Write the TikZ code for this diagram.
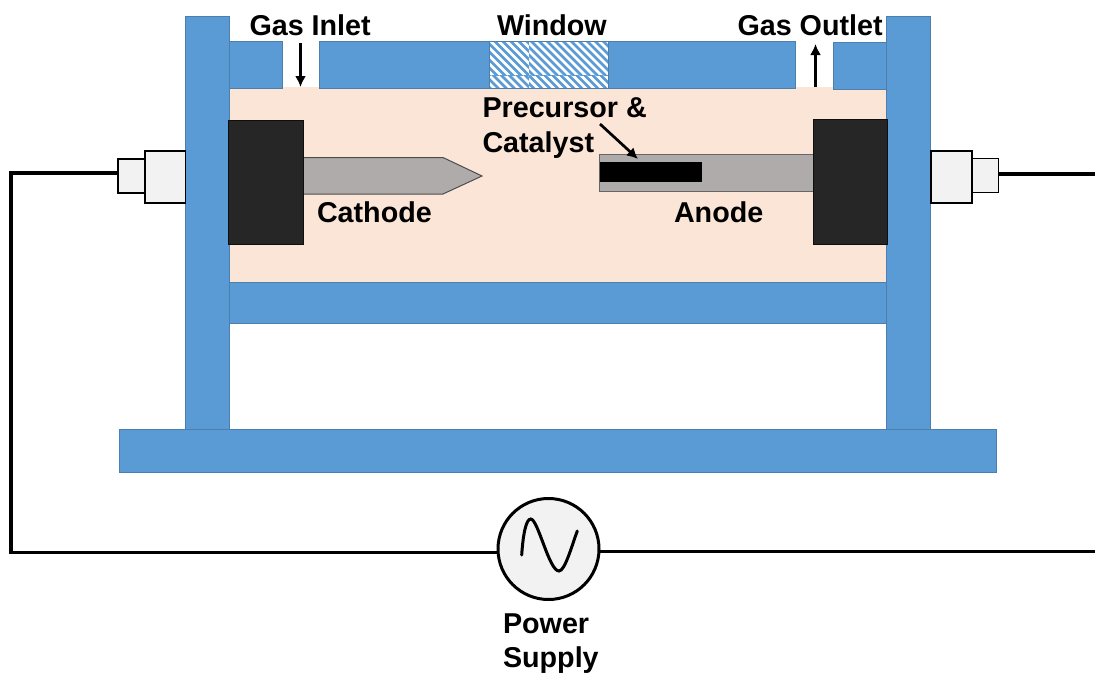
\documentclass[tikz,border=0pt]{standalone}
\usepackage{fontspec}
\setmainfont{Liberation Sans}
\definecolor{blueA}{HTML}{5B9BD5}
\definecolor{blueE}{HTML}{4A7FAE}
\definecolor{peach}{HTML}{FBE5D6}
\definecolor{darkB}{HTML}{262626}
\definecolor{greyE}{HTML}{AFABAB}
\definecolor{lightF}{HTML}{F2F2F2}
\usetikzlibrary{arrows.meta,calc}
\tikzset{
  box/.style={rectangle,anchor=north west,inner sep=0pt,outer sep=0pt},
  bluebox/.style={box,fill=blueA,draw=blueE,line width=1pt},
  holder/.style={box,fill=darkB,draw=black!60!darkB,line width=1pt},
  fitting/.style={box,fill=lightF,draw=black,line width=1.5pt},
  label/.style={anchor=base west,inner sep=0pt,outer sep=0pt,font=\fontsize{28.7}{34}\selectfont\bfseries},
  wire/.style={draw=black,line width=3.2pt,line cap=rect},
  gasarrow/.style={draw=black,line width=2.7pt,-{Latex[length=11pt,width=11pt]}}
}
\newcommand{\bx}[7][]{\node[#2,#1,minimum width=#5pt-#3pt,minimum height=#6pt-#4pt] (#7) at (#3pt,-#4pt) {};}
\begin{document}
\begin{tikzpicture}[x=1pt,y=-1pt]
\useasboundingbox (0,0) rectangle (1095,672);
% wiring behind the fittings and the supply
\coordinate (cornertop) at (11,173);
\coordinate (cornerbot) at (11,552.5);
\coordinate (exitbot) at (1095,551.5);
\coordinate (exittop) at (1095,174);
% chamber
\bx[fill=peach]{box}{229}{87}{886}{282}{chamber}
% top wall
\bx{bluebox}{229}{41.5}{282}{88}{topa}
\bx{bluebox}{319}{41.5}{489}{88}{topb}
\bx{bluebox}{608}{41.5}{795}{88}{topc}
\bx{bluebox}{833.5}{42}{886}{89}{topd}
% window
\bx{box}{489}{41.5}{608}{88}{window}
\fill[white] (window.north west) rectangle (window.south east);
\foreach \xa/\xb/\ya/\yb/\ph in {489/529/41.5/75/3.5, 529/608/41.5/75/0, 489/529/75/88/0, 529/608/75/88/3.5} {
  \begin{scope}
  \clip (\xa,\ya) rectangle (\xb,\yb);
  \foreach \k in {-10,...,30} {
    \draw[blueA,line width=2.7pt] (480+\k*8+\ph,30) -- ++(70,70);
  }
  \end{scope}
}
\draw[blueE,line width=1pt] (window.north west) rectangle (window.south east);
% frame
\bx{bluebox}{229}{282}{886}{323}{lowerbar}
\bx{bluebox}{185}{16}{229}{430}{postl}
\bx{bluebox}{886}{16}{930}{430}{postr}
\bx{bluebox}{119}{429.5}{996}{472.5}{base}
% electrodes
\bx{box}{303}{157.5}{443}{194}{cathode}
\path[fill=greyE,draw=black!70,line width=1pt] (cathode.north west) -- (cathode.north east) -- (482,176) -- (cathode.south east) -- (cathode.south west) -- cycle;
\bx[fill=greyE,draw=black!60,line width=1pt]{box}{599.5}{154}{813}{191.5}{anode}
\bx[fill=black]{box}{600}{162}{702}{181.5}{catalyst}
\bx{holder}{228.5}{120.5}{303}{244.5}{holderl}
\bx{holder}{813}{119.5}{887.5}{244.5}{holderr}
% fittings
\bx{fitting}{145}{151}{185.5}{203}{fitla}
\bx{fitting}{118}{159}{145}{193}{fitlb}
\bx{fitting}{931}{151}{972}{203}{fitra}
\bx{fitting}{972}{158.5}{998.5}{192.5}{fitrb}
% power supply
\node[circle,fill=lightF,draw=black,line width=3pt,minimum size=101pt,inner sep=0pt,outer sep=0pt] (supply) at (548.5,549) {};
\draw[black,line width=3pt,line cap=round] (521.7,555) .. controls (523,535) and (526,519) .. (530.7,519) .. controls (538,519) and (549,571) .. (559,571) .. controls (565,571) and (572,545) .. (577.3,531);
% wires
\draw[wire,line cap=butt] (fitlb.west |- cornertop) -- (cornertop);
\draw[wire] (cornertop) -- (cornerbot);
\draw[wire,line cap=butt] (cornerbot) -- (supply.west |- cornerbot);
\draw[wire,line cap=butt] (supply.east |- exitbot) -- (exitbot);
\draw[wire,line cap=butt] (fitrb.east |- exittop) -- (exittop);
% gas arrows
\coordinate (inlettop) at (300.5,43);
\coordinate (inletbot) at (300.5,87);
\coordinate (outletbot) at (815.5,87);
\coordinate (outlettop) at (815.5,44);
\draw[gasarrow] (inlettop) -- (inletbot);
\draw[gasarrow] (outletbot) -- (outlettop);
\coordinate (prectail) at (600,124);
\coordinate (prechead) at (638,159);
\draw[gasarrow] (prectail) -- (prechead);
% labels
\node[label] (lgasin) at (249.5,35) {Gas Inlet};
\node[label] (lwindow) at (497,35) {Window};
\node[label] (lgasout) at (737.5,35) {Gas Outlet};
\node[label] (lprec) at (482.5,117) {Precursor \&};
\node[label] (lcat) at (482.5,152) {Catalyst};
\node[label] (lcath) at (317,222) {Cathode};
\node[label] (lanode) at (674,222) {Anode};
\node[label] (lpower) at (503,633) {Power};
\node[label] (lsupply) at (503,667) {Supply};
\end{tikzpicture}
\end{document}
